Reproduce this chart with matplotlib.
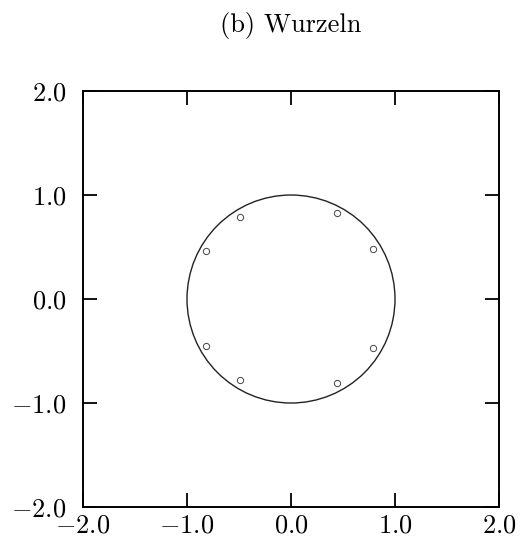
import matplotlib
matplotlib.use("Agg")
import matplotlib.pyplot as plt
from matplotlib.patches import Circle
from matplotlib.ticker import FuncFormatter

plt.rcParams["font.family"] = "serif"
plt.rcParams["font.serif"] = ["cmr10"]
plt.rcParams["mathtext.fontset"] = "cm"
plt.rcParams["axes.formatter.use_mathtext"] = True

# roots of the polynomial (real, imag parts)
root_re = [0.44, 0.785, 0.785, 0.44, -0.49, -0.82, -0.82, -0.49]
root_im = [0.83, 0.48, -0.47, -0.81, 0.79, 0.46, -0.45, -0.78]
unit_radius = 1.0
ticks = [-2.0, -1.0, 0.0, 1.0, 2.0]

fig = plt.figure(figsize=(5.21, 5.46), dpi=100)
ax = fig.add_axes([0.1593, 0.0714, 0.7985, 0.7619])

ax.add_patch(Circle((0, 0), unit_radius, fill=False, edgecolor="#222222",
                    linewidth=1.0))
ax.plot(root_re, root_im, linestyle="none", marker="o", markersize=4.5,
        markerfacecolor="white", markeredgecolor="#444444",
        markeredgewidth=0.7)

ax.set_xlim(-2, 2)
ax.set_ylim(-2, 2)
ax.set_xticks(ticks)
ax.set_yticks(ticks)
fmt = FuncFormatter(lambda v, pos: r"$%.1f$" % v)
ax.xaxis.set_major_formatter(fmt)
ax.yaxis.set_major_formatter(fmt)
ax.tick_params(direction="in", length=10, width=1.3, labelsize=19,
               top=True, right=True, color="black")
ax.tick_params(axis="x", pad=5)
ax.tick_params(axis="y", pad=12)
for spine in ax.spines.values():
    spine.set_linewidth(1.4)

fig.text(0.5585, 0.953, "(b) Wurzeln", ha="center", va="center", fontsize=19)

fig.savefig("out.png", dpi=100)
